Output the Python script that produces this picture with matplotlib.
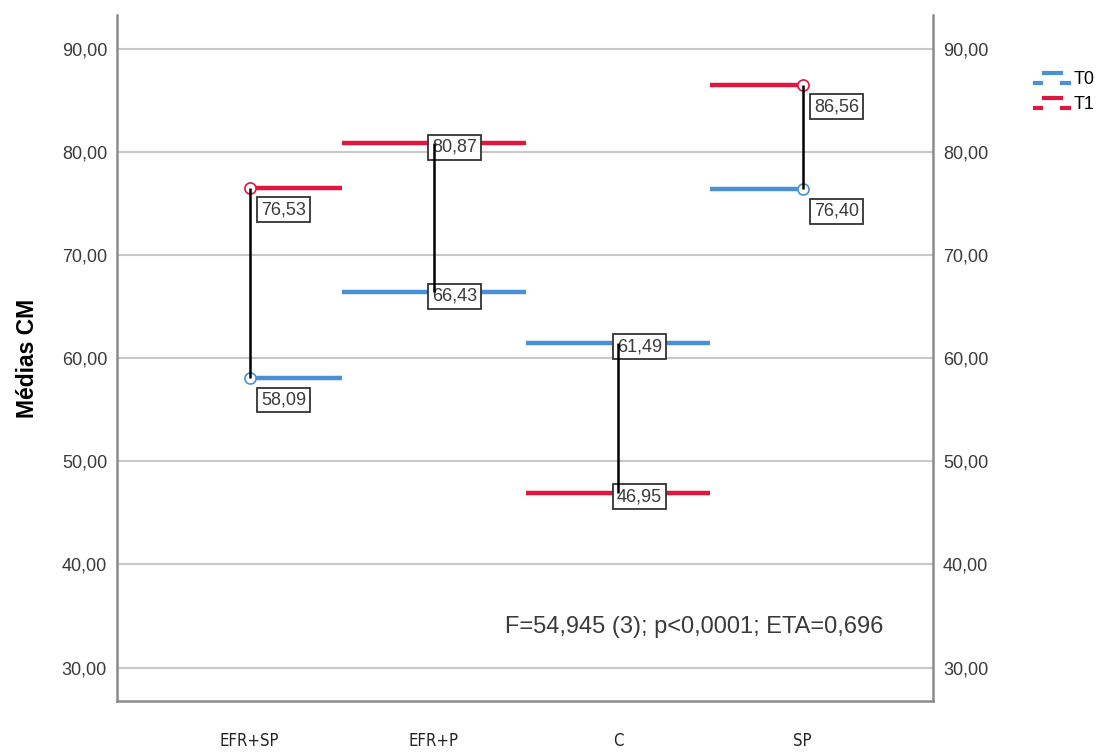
import matplotlib
matplotlib.use("Agg")
import matplotlib.pyplot as plt
from matplotlib.legend_handler import HandlerBase
from matplotlib.lines import Line2D
import numpy as np

# group means at the two time points
groups = ["EFR+SP", "EFR+P", "C", "SP"]
t0 = [58.09, 66.43, 61.49, 76.40]
t1 = [76.53, 80.87, 46.95, 86.56]
series_names = ["T0", "T1"]
yticks = [30, 40, 50, 60, 70, 80, 90]
stats_text = "F=54,945 (3); p<0,0001; ETA=0,696"

blue = "#4a90d6"
red = "#e0163f"
grid_c = "#c8c8c8"
spine_c = "#8c8c8c"
txt_c = "#3a3a3a"

plt.rcParams["font.family"] = ["Liberation Sans", "DejaVu Sans"]

fig = plt.figure(figsize=(11.02, 7.53), dpi=100)
ax = fig.add_axes([0.106, 0.069, 0.741, 0.911])

x = np.arange(len(groups))
left = np.clip(x - 0.5, 0, len(groups) - 1)
right = np.clip(x + 0.5, 0, len(groups) - 1)

# mid-step segments for each series
ax.hlines(t0, left, right, color=blue, lw=3.2, zorder=2)
ax.hlines(t1, left, right, color=red, lw=3.2, zorder=2)
ax.plot(x, t0, "o", mfc="white", mec=blue, ms=8, mew=1.2, zorder=2.5)
ax.plot(x, t1, "o", mfc="white", mec=red, ms=8, mew=1.2, zorder=2.5)

# difference lines
ax.vlines(x, t0, t1, color="black", lw=1.8, zorder=4)

# value labels
for i in range(len(groups)):
    if i in (0, len(groups) - 1):
        off = (34, -22)
    else:
        off = (21, -4)
    for v in (t0[i], t1[i]):
        ax.annotate(f"{v:.2f}".replace(".", ","), xy=(x[i], v),
                    xytext=off, textcoords="offset pixels",
                    ha="center", va="center", fontsize=13, color=txt_c,
                    bbox=dict(boxstyle="square,pad=0.22", fc="white",
                              ec="#333333", lw=1.3),
                    zorder=3)

ax.text(2.41, 33.9, stats_text, ha="center", va="center",
        fontsize=17, color=txt_c)

ax.set_xlim(-0.72, 3.71)
ax.set_ylim(26.75, 93.3)
ax.set_yticks(yticks)
ax.set_yticklabels([f"{t},00" for t in yticks])
ax.grid(axis="y", color=grid_c, lw=1.5)
ax.set_axisbelow(True)
ax.tick_params(axis="y", length=0, labelsize=13, labelcolor=txt_c, pad=7,
               right=True, labelright=True)
ax.set_xticks(x)
ax.set_xticklabels(groups, family=["Liberation Sans Narrow", "DejaVu Sans"],
                   fontstretch="condensed", fontsize=12, color="#222222")
ax.tick_params(axis="x", length=0, pad=22)

for side in ("left", "right", "bottom"):
    ax.spines[side].set_color(spine_c)
    ax.spines[side].set_linewidth(1.8)
ax.spines["top"].set_visible(False)

ax.set_ylabel("Médias CM", fontsize=16.5, fontweight="bold", labelpad=16)


class StepIcon(HandlerBase):
    def create_artists(self, legend, orig, xd, yd, w, h, fontsize, trans):
        c = orig.get_color()
        lo, hi = 0.1 * h - yd, 0.9 * h - yd
        segs = [((0.0, 0.17), lo), ((0.27, 0.77), hi), ((0.8, 1.0), lo)]
        out = []
        for (a, b), yy in segs:
            ln = Line2D([-xd + a * w, -xd + b * w], [yy, yy], color=c,
                        lw=3, transform=trans)
            out.append(ln)
        return out


handles = [Line2D([], [], color=blue), Line2D([], [], color=red)]
fig.legend(handles, series_names, loc="upper left",
           bbox_to_anchor=(1026 / 1102, 1 - 62 / 753), frameon=False,
           fontsize=13, handlelength=1.9, handletextpad=0.25,
           labelspacing=0.45, borderpad=0,
           handler_map={Line2D: StepIcon()})

fig.savefig("out.png", dpi=100)
